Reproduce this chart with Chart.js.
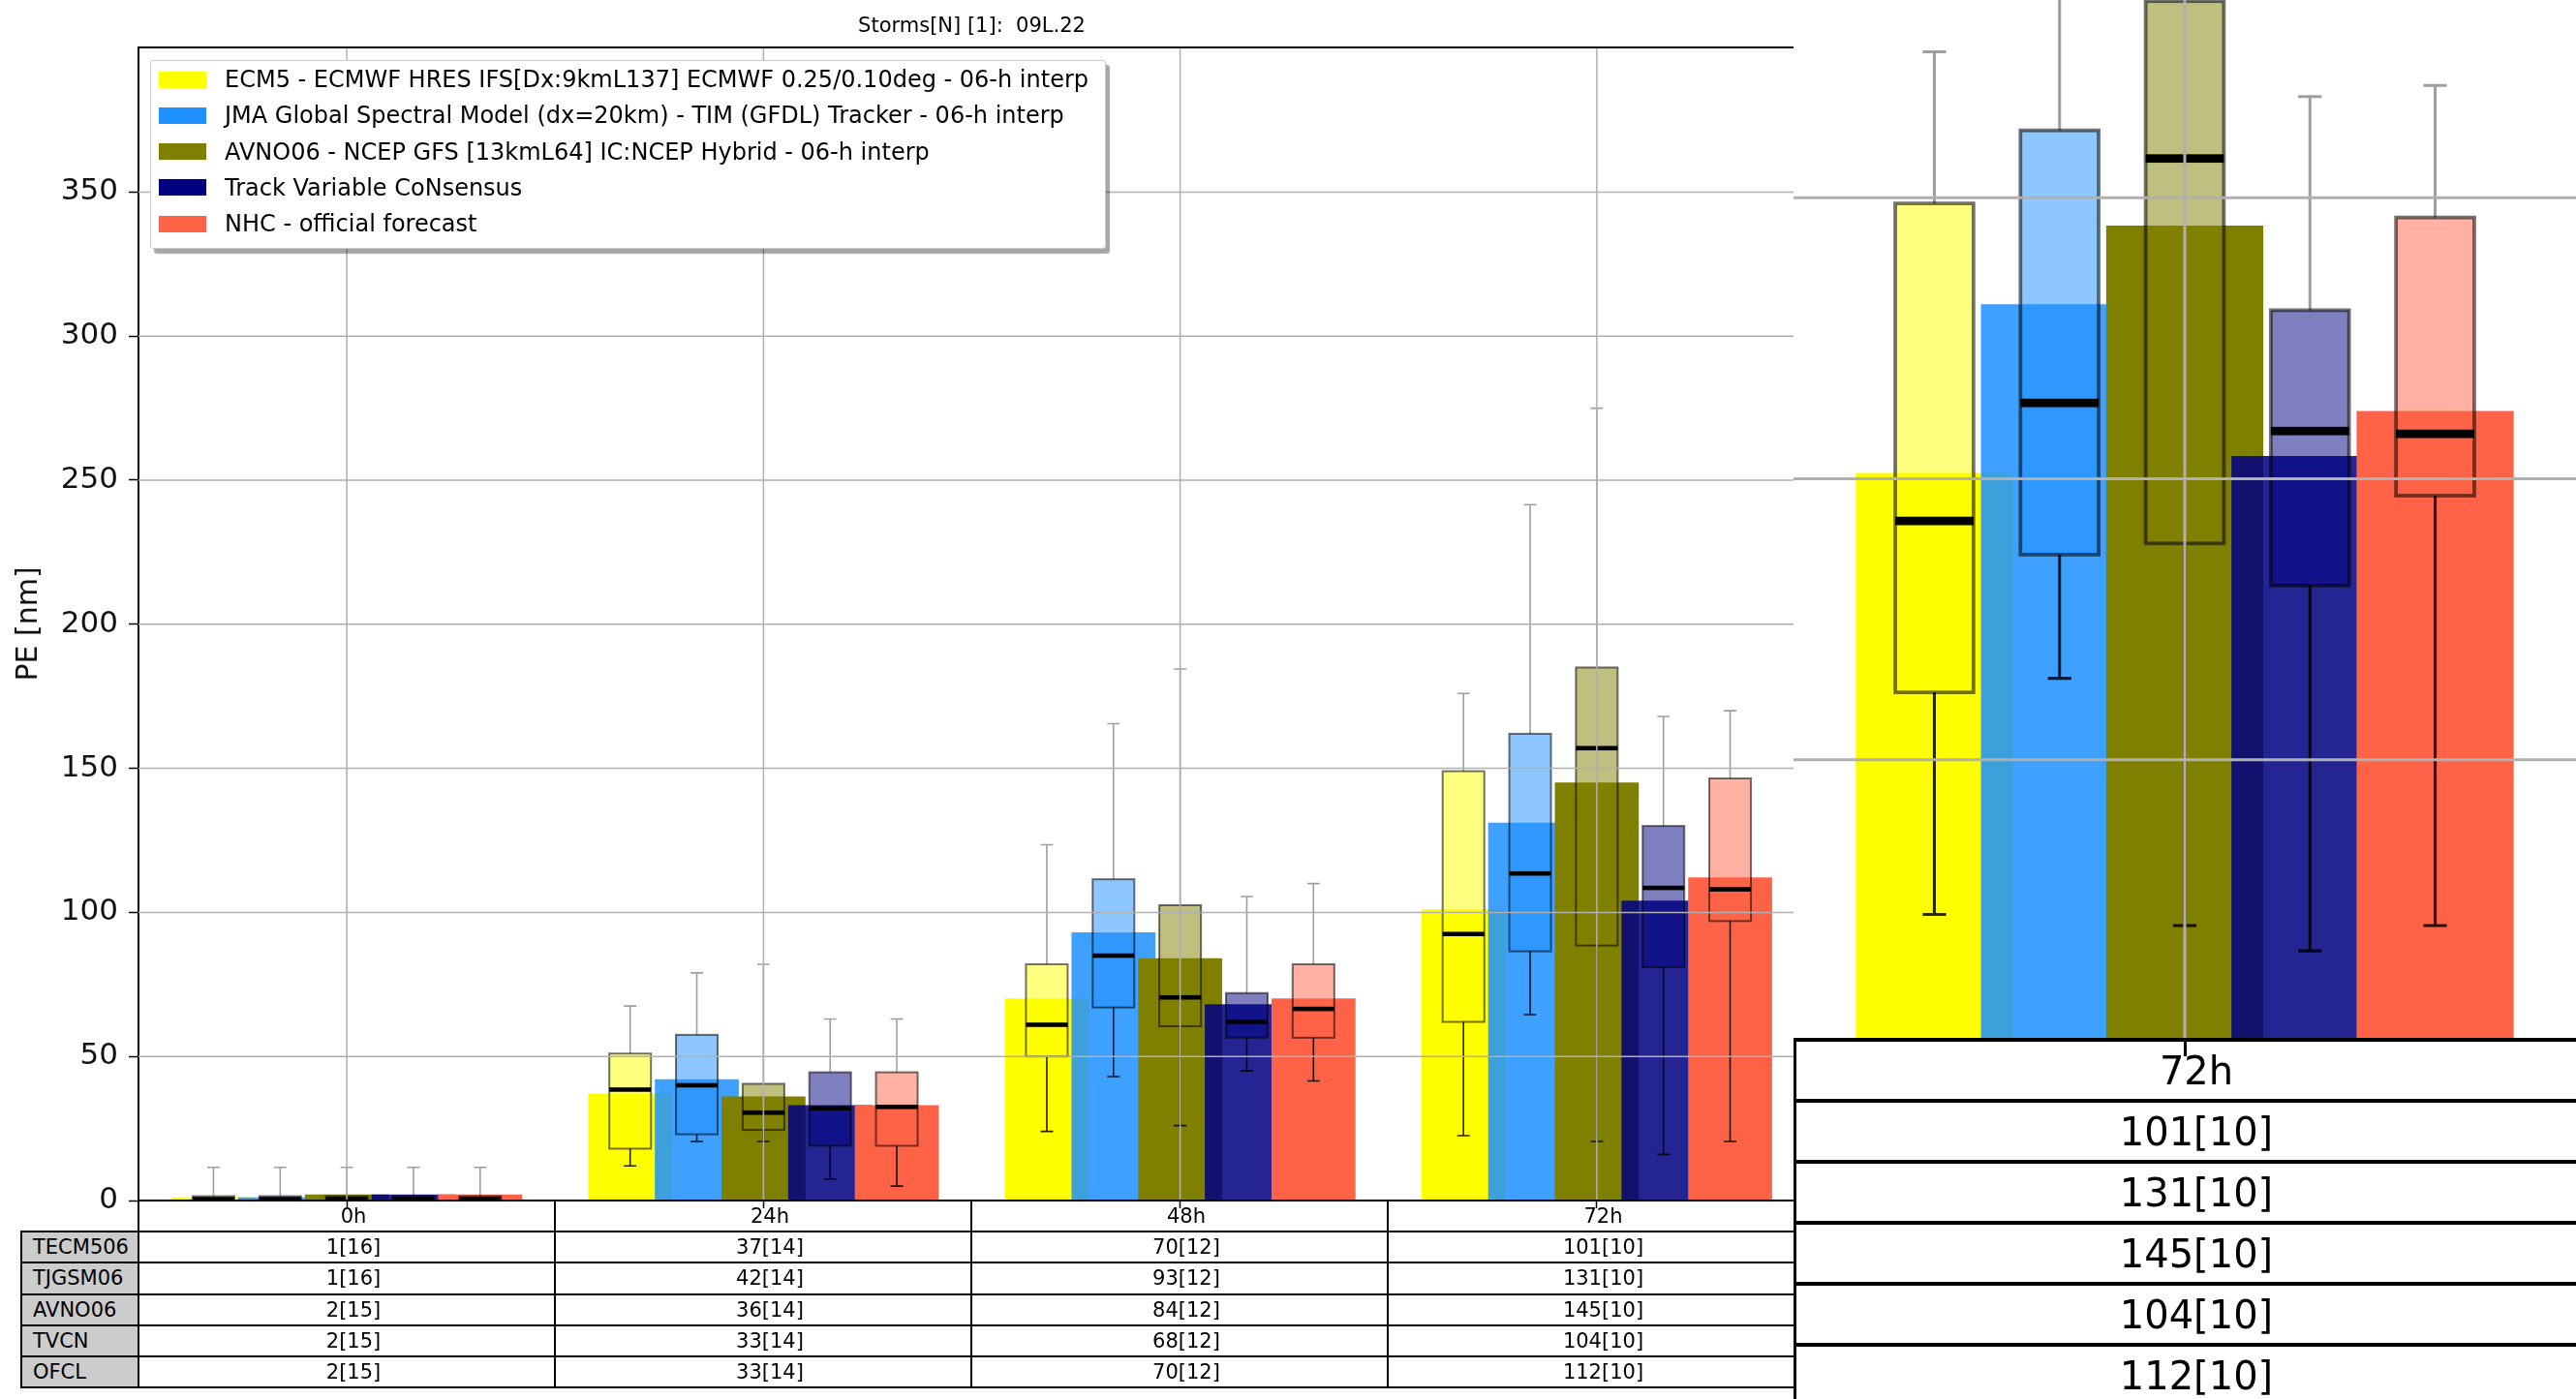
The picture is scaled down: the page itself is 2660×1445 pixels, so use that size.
<!DOCTYPE html>
<html>
<head>
<meta charset="utf-8">
<title>Storms[N] [1]: 09L.22</title>
<script src="https://cdn.jsdelivr.net/npm/chart.js@4.4.1/dist/chart.umd.min.js"></script>
<style>
  html, body { margin: 0; padding: 0; background: #fff; }
  body { width: 2660px; height: 1445px; position: relative; overflow: hidden;
         font-family: 'DejaVu Sans', 'Liberation Sans', sans-serif; color: #000; }
  #mainCanvas { position: absolute; left: 0; top: 0; }
  #title { position: absolute; left: 143px; width: 1721px; top: 14px; font-size: 21px;
           line-height: 24px; text-align: center; white-space: pre; }
  #legend { position: absolute; left: 155px; top: 62px; width: 985px; height: 193px; background: #fff;
            border: 1px solid #cccccc; border-radius: 3px; box-shadow: 4px 5px 1px rgba(0,0,0,0.35); }
  .lg-row { position: absolute; left: 0; right: 0; height: 26px; font-size: 24px; line-height: 26px; white-space: nowrap; }
  .lg-patch { position: absolute; left: 8px; top: 4.5px; width: 49px; height: 17px; }
  .lg-text { position: absolute; left: 76px; top: 0; }
  .cell { position: absolute; box-sizing: border-box; border: 2px solid #000; display: flex;
          align-items: center; justify-content: center; font-size: 21px; white-space: nowrap; }
  .cell.val { padding-left: 14px; }
  .cell.rowhead { background: #cccccc; justify-content: flex-start; padding-left: 11px; }
  #inset { position: absolute; left: 1852px; top: 0; width: 808px; height: 1445px; background: #fff; overflow: hidden; }
  #insetCanvas { position: absolute; left: 0; top: 0; }
  .icell { position: absolute; box-sizing: border-box; border: 4px solid #000; display: flex;
           align-items: center; justify-content: center; font-size: 40px; white-space: nowrap; }
</style>
</head>
<body>
<canvas id="mainCanvas" width="1870" height="1260" style="width:1870px;height:1260px"></canvas>
<div id="title"></div>
<div id="mainTable"></div>
<div id="legend"></div>
<div id="inset">
  <canvas id="insetCanvas" width="808" height="1095" style="width:808px;height:1095px"></canvas>
  <div id="insetTable"></div>
</div>

<script>
// ---- data -------------------------------------------------------------
const PLOT_TITLE = 'Storms[N] [1]:  09L.22';
const Y_TITLE = 'PE [nm]';
const Y_TICKS = [0, 50, 100, 150, 200, 250, 300, 350];
const LEAD_TIMES = ['0h', '24h', '48h', '72h'];
const MODEL_CODES = ['TECM506', 'TJGSM06', 'AVNO06', 'TVCN', 'OFCL'];
const MODEL_NAMES = [
  'ECM5 - ECMWF HRES IFS[Dx:9kmL137] ECMWF 0.25/0.10deg - 06-h interp',
  'JMA Global Spectral Model (dx=20km) - TIM (GFDL) Tracker - 06-h interp',
  'AVNO06 - NCEP GFS [13kmL64] IC:NCEP Hybrid - 06-h interp',
  'Track Variable CoNsensus',
  'NHC - official forecast'
];

// mean position error per model and lead time
const MEAN_PE = [
  [1, 37, 70, 101],
  [1, 42, 93, 131],
  [2, 36, 84, 145],
  [2, 33, 68, 104],
  [2, 33, 70, 112]
];
// number of verifying cases
const CASE_COUNT = [
  [16, 14, 12, 10],
  [16, 14, 12, 10],
  [15, 14, 12, 10],
  [15, 14, 12, 10],
  [15, 14, 12, 10]
];
// distribution summaries
const WHISKER_LOW = [
  [0, 12, 24, 22.5],
  [0, 20.5, 43, 64.5],
  [0, 20.5, 26, 20.5],
  [0, 7.5, 45, 16],
  [0, 5, 41.5, 20.5]
];
const QUARTILE_1 = [
  [0, 18, 50, 62],
  [0, 23, 67, 86.5],
  [0, 24.5, 60.5, 88.5],
  [0, 19, 56.5, 81],
  [0, 19, 56.5, 97]
];
const MEDIAN_PE = [
  [0.5, 38.5, 61, 92.5],
  [0.5, 40, 85, 113.5],
  [0.5, 30.5, 70.5, 157],
  [0.5, 32, 62, 108.5],
  [0.5, 32.5, 66.5, 108]
];
const QUARTILE_3 = [
  [1.5, 51, 82, 149],
  [1.5, 57.5, 111.5, 162],
  [1.5, 40.5, 102.5, 185],
  [1.5, 44.5, 72, 130],
  [1.5, 44.5, 82, 146.5]
];
const WHISKER_HIGH = [
  [11.5, 67.5, 123.5, 176],
  [11.5, 79, 165.5, 241.5],
  [11.5, 82, 184.5, 275],
  [11.5, 63, 105.5, 168],
  [11.5, 63, 110, 170]
];

// ---- styling ----------------------------------------------------------
const SERIES_COLORS = ['#ffff00', '#1e90ff', '#808000', '#000080', '#ff6347'];
const BAR_ALPHA = [1, 0.86, 1, 0.86, 1];
const FONT = 'DejaVu Sans';

function rgba(hex, a) {
  const n = parseInt(hex.slice(1), 16);
  return `rgba(${(n >> 16) & 255},${(n >> 8) & 255},${n & 255},${a})`;
}

function strokeSegs(ctx, color, segs) {
  ctx.strokeStyle = color;
  ctx.beginPath();
  segs.forEach(([x1, y1, x2, y2]) => { ctx.moveTo(x1, y1); ctx.lineTo(x2, y2); });
  ctx.stroke();
}

const fixedYTicks = scale => { scale.ticks = Y_TICKS.map(v => ({ value: v })); };

// Bars (first series at the back), box-and-whisker overlays, then the grid on top.
const boxStatsPlugin = {
  id: 'boxStats',
  beforeDatasetsDraw(chart, args, opts) {
    const { ctx, chartArea: area } = chart;
    const yScale = chart.scales.y, xScale = chart.scales.x;
    const k = opts.k || 1;
    ctx.save();
    ctx.beginPath();
    ctx.rect(area.left, area.top, area.right - area.left, area.bottom - area.top);
    ctx.clip();

    chart.data.datasets.forEach((ds, i) => chart.getDatasetMeta(i).controller.draw());

    const px = v => yScale.getPixelForValue(v);
    chart.data.datasets.forEach((ds, i) => {
      chart.getDatasetMeta(i).data.forEach((bar, j) => {
        if (bar.x < area.left - bar.width || bar.x > area.right + bar.width) return;
        const x = bar.x, half = bar.width * 0.25, cap = bar.width * 0.075;
        const yLo = px(WHISKER_LOW[i][j]), yQ1 = px(QUARTILE_1[i][j]);
        const yMed = px(MEDIAN_PE[i][j]), yQ3 = px(QUARTILE_3[i][j]), yHi = px(WHISKER_HIGH[i][j]);
        ctx.fillStyle = rgba(SERIES_COLORS[i], 0.5);
        ctx.fillRect(x - half, yQ3, 2 * half, yQ1 - yQ3);
        ctx.lineWidth = 1.6 * k;
        strokeSegs(ctx, 'rgba(0,0,0,0.38)', [[x, yQ3, x, yHi], [x - cap, yHi, x + cap, yHi]]);
        strokeSegs(ctx, 'rgba(0,0,0,0.85)', [[x, yQ1, x, yLo], [x - cap, yLo, x + cap, yLo]]);
        ctx.lineWidth = 2 * k;
        ctx.strokeStyle = 'rgba(0,0,0,0.55)';
        ctx.strokeRect(x - half, yQ3, 2 * half, yQ1 - yQ3);
        ctx.fillStyle = '#000';
        ctx.fillRect(x - half, yMed - 2.3 * k, 2 * half, 4.6 * k);
      });
    });

    ctx.strokeStyle = '#b0b0b0';
    ctx.lineWidth = opts.gridWidth;
    ctx.beginPath();
    yScale.ticks.forEach(t => {
      if (t.value <= yScale.min) return;
      const p = yScale.getPixelForValue(t.value);
      ctx.moveTo(area.left, p); ctx.lineTo(area.right, p);
    });
    xScale.ticks.forEach(t => {
      const p = xScale.getPixelForValue(t.value);
      ctx.moveTo(p, area.top); ctx.lineTo(p, area.bottom);
    });
    ctx.stroke();
    ctx.restore();

    if (opts.topSpine) {
      ctx.save();
      ctx.strokeStyle = '#000';
      ctx.lineWidth = 2;
      ctx.beginPath();
      ctx.moveTo(area.left - 1, area.top);
      ctx.lineTo(area.right, area.top);
      ctx.stroke();
      ctx.restore();
    }
    return false;
  }
};

function makeDatasets() {
  return MEAN_PE.map((vals, i) => ({
    label: MODEL_CODES[i],
    data: vals,
    backgroundColor: rgba(SERIES_COLORS[i], BAR_ALPHA[i]),
    borderWidth: 0
  }));
}

// ---- main chart -------------------------------------------------------
new Chart(document.getElementById('mainCanvas'), {
  type: 'bar',
  data: { labels: LEAD_TIMES, datasets: makeDatasets() },
  plugins: [boxStatsPlugin],
  options: {
    responsive: false,
    animation: false,
    devicePixelRatio: 1,
    layout: { autoPadding: false, padding: { left: 0, top: 49, right: 6, bottom: 0 } },
    datasets: { bar: { categoryPercentage: 0.8, barPercentage: 1.25 } },
    plugins: {
      legend: { display: false },
      tooltip: { enabled: false },
      boxStats: { k: 1, gridWidth: 1.5, topSpine: true }
    },
    scales: {
      x: {
        z: 1,
        ticks: { display: false },
        grid: { drawOnChartArea: false, drawTicks: true, tickLength: 8, tickColor: '#000', tickWidth: 1.5, offset: false },
        border: { display: true, color: '#000', width: 2 },
        afterFit(s) { s.height = 20; s.paddingLeft = 0; s.paddingRight = 0; }
      },
      y: {
        z: 1,
        min: 0,
        max: 400.2,
        afterBuildTicks: fixedYTicks,
        ticks: { color: '#111', padding: 11, font: { family: FONT, size: 31 } },
        grid: { drawOnChartArea: false, drawTicks: true, tickLength: 10, tickColor: '#000', tickWidth: 1.5 },
        border: { display: true, color: '#000', width: 2 },
        title: { display: true, text: Y_TITLE, color: '#111', font: { family: FONT, size: 30 }, padding: { top: 12, bottom: 0 } },
        afterFit(s) { s.width = 143; s.paddingTop = 0; s.paddingBottom = 0; }
      }
    }
  }
});

// ---- magnified view of the last lead time ---------------------------
const INSET_LEAD = LEAD_TIMES[LEAD_TIMES.length - 1];
new Chart(document.getElementById('insetCanvas'), {
  type: 'bar',
  data: { labels: LEAD_TIMES, datasets: makeDatasets() },
  plugins: [boxStatsPlugin],
  options: {
    responsive: false,
    animation: false,
    devicePixelRatio: 1,
    layout: { autoPadding: false, padding: 0 },
    datasets: { bar: { categoryPercentage: 0.8, barPercentage: 1.25 } },
    plugins: {
      legend: { display: false },
      tooltip: { enabled: false },
      boxStats: { k: 1.9, gridWidth: 3, topSpine: false }
    },
    scales: {
      x: {
        z: 1,
        min: INSET_LEAD,
        max: INSET_LEAD,
        ticks: { display: false },
        grid: { drawOnChartArea: false, drawTicks: true, tickLength: 16, tickColor: '#000', tickWidth: 3, offset: false },
        border: { display: false },
        afterFit(s) { s.height = 20; s.paddingLeft = 0; s.paddingRight = 0; }
      },
      y: {
        display: false,
        min: 0,
        max: 185.2,
        afterBuildTicks: fixedYTicks
      }
    }
  }
});

// ---- title, legend, tables -------------------------------------------
document.getElementById('title').textContent = PLOT_TITLE;

const legend = document.getElementById('legend');
MODEL_NAMES.forEach((name, i) => {
  const row = document.createElement('div');
  row.className = 'lg-row';
  row.style.top = (19 + i * 37.25 - 13) + 'px';
  const patch = document.createElement('div');
  patch.className = 'lg-patch';
  patch.style.background = SERIES_COLORS[i];
  const txt = document.createElement('div');
  txt.className = 'lg-text';
  txt.textContent = name;
  row.appendChild(patch);
  row.appendChild(txt);
  legend.appendChild(row);
});

function addCell(parent, cls, text, x0, x1, y0, y1, bw) {
  const c = document.createElement('div');
  c.className = cls;
  const h = bw / 2;
  c.style.left = (x0 - h) + 'px';
  c.style.top = (y0 - h) + 'px';
  c.style.width = (x1 - x0 + bw) + 'px';
  c.style.height = (y1 - y0 + bw) + 'px';
  c.textContent = text;
  parent.appendChild(c);
}

const cellText = (i, j) => `${MEAN_PE[i][j]}[${CASE_COUNT[i][j]}]`;

const mainTable = document.getElementById('mainTable');
const colEdges = [22, 143, 573, 1003, 1433, 1864];
const rowEdges = [1240, 1272];
for (let r = 1; r <= MODEL_CODES.length; r++) rowEdges.push(1272 + r * 32.3);
LEAD_TIMES.forEach((lt, j) => addCell(mainTable, 'cell val', lt, colEdges[j + 1], colEdges[j + 2], rowEdges[0], rowEdges[1], 2));
MODEL_CODES.forEach((code, i) => {
  addCell(mainTable, 'cell rowhead', code, colEdges[0], colEdges[1], rowEdges[i + 1], rowEdges[i + 2], 2);
  LEAD_TIMES.forEach((lt, j) => addCell(mainTable, 'cell val', cellText(i, j), colEdges[j + 1], colEdges[j + 2], rowEdges[i + 1], rowEdges[i + 2], 2));
});

const insetTable = document.getElementById('insetTable');
const li = LEAD_TIMES.indexOf(INSET_LEAD);
const insetRow = r => 1074 + r * 63;
addCell(insetTable, 'icell', INSET_LEAD, 1, 831, insetRow(0), insetRow(1), 4);
MODEL_CODES.forEach((code, i) => addCell(insetTable, 'icell', cellText(i, li), 1, 831, insetRow(i + 1), insetRow(i + 2), 4));
</script>
</body>
</html>
